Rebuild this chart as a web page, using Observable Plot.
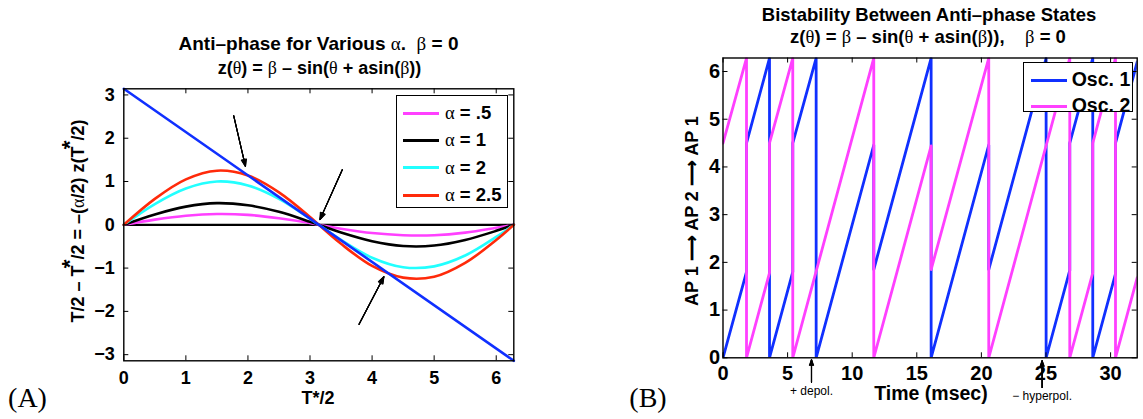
<!DOCTYPE html>
<html><head><meta charset="utf-8">
<script src="https://cdn.jsdelivr.net/npm/d3@7"></script>
<script src="https://cdn.jsdelivr.net/npm/@observablehq/plot@0.6"></script>
<style>
body{margin:0;background:#fff;}
#wrap{position:relative;width:1143px;height:419px;overflow:hidden;font-family:"Liberation Sans",Arial,sans-serif;color:#000;}
#wrap svg{position:absolute;top:0;}
.t{position:absolute;white-space:pre;transform:translate(-50%,-50%);font-weight:bold;line-height:1;}
.g{font-family:"Liberation Serif","DejaVu Serif",serif;font-weight:normal;}
.rot{transform:translate(-50%,-50%) rotate(-90deg);}
.legend{position:absolute;border:1.3px solid #000;background:#fff;box-sizing:border-box;}
.sw{position:absolute;height:3px;}
.lt{position:absolute;white-space:pre;font-weight:bold;line-height:1;transform:translateY(-50%);}
.panel{position:absolute;font-family:"Liberation Serif","DejaVu Serif",serif;font-size:28px;transform:translate(-50%,-50%);line-height:1;}
.st{position:relative;top:-0.3em;font-size:1.25em;margin-left:-0.12em;}
</style></head>
<body><div id="wrap"></div>
<script>
// ---------- Panel A data ----------
const thetaA   = [0, 0.5, 1, 1.5, 2, 2.5, 3, 3.1416, 3.5, 4, 4.5, 5, 5.5, 6, 6.2832];
const alpha05  = [0, 0.12, 0.21, 0.25, 0.23, 0.15, 0.04, 0, -0.09, -0.19, -0.24, -0.24, -0.18, -0.07, 0];
const alpha1   = [0, 0.24, 0.42, 0.50, 0.45, 0.30, 0.07, 0, -0.18, -0.38, -0.49, -0.48, -0.35, -0.14, 0];
const alpha2   = [0, 0.48, 0.84, 1.00, 0.91, 0.60, 0.14, 0, -0.35, -0.76, -0.98, -0.96, -0.71, -0.28, 0];
const alpha25  = [0, 0.60, 1.05, 1.25, 1.14, 0.75, 0.18, 0, -0.44, -0.95, -1.22, -1.20, -0.88, -0.35, 0];
const alphaNames  = ["α = .5", "α = 1", "α = 2", "α = 2.5"];
const alphaColors = ["#ff40ff", "#000000", "#22ffff", "#ff2a0a"];
const diagX = [0, 6.2832];
const diagY = [3.1416, -3.1416];
const xTicksA = [0, 1, 2, 3, 4, 5, 6];
const yTicksA = [-3, -2, -1, 0, 1, 2, 3];
const arrowAx1 = [1.77, 3.52, 3.79];
const arrowAy1 = [2.52, 1.27, -2.30];
const arrowAx2 = [1.96, 3.16, 4.19];
const arrowAy2 = [1.35, 0.12, -1.20];

// ---------- Panel B data ----------
const osc1T     = [0, 1.82, 1.82, 3.60, 3.60, 5.40, 5.40, 7.21, 7.21, 11.67, 11.67, 16.11, 16.11, 20.57, 20.57, 25.01, 25.01, 26.84, 26.84, 28.62, 28.62, 30.38, 30.38, 32.06];
const osc1Phase = [0, 1.80, 4.50, 6.28, 0,    1.80, 4.50, 6.28, 0,    4.46,  1.85,  6.28,  0,     4.46,  1.85,  6.28,  0,     1.83,  4.50,  6.28,  0,     1.76,  4.50,  6.20];
const osc2T     = [0, 1.82, 1.82, 3.60, 3.60, 5.40, 5.40, 11.67, 11.67, 16.11, 16.11, 20.57, 20.57, 26.84, 26.84, 28.62, 28.62, 30.38, 30.38, 32.06];
const osc2Phase = [4.50, 6.28, 0, 1.78, 4.50, 6.28, 0,  6.28,  0,     4.44,  1.85,  6.28,  0,     6.28,  0,     1.78,  4.50,  6.28,  0,     1.68];
const oscNames  = ["Osc. 1", "Osc. 2"];
const oscColors = ["#1030ff", "#ff40ff"];
const xTicksB = [0, 5, 10, 15, 20, 25, 30];
const yTicksB = [0, 1, 2, 3, 4, 5, 6];
const pulseT     = [6.85, 24.7];
const pulseLabel = ["+ depol.", "− hyperpol."];
const pulseTail  = [-0.51, -0.62];
const pulseHead  = [-0.04, -0.06];
const pulseTextY = [-0.70, -0.81];

const wrap = document.getElementById("wrap");
const font = "Liberation Sans, Arial, sans-serif";

function frameTicks(xt, yt, W, H, len) {
  return [
    Plot.tickX(xt, {x: d => d, insetTop: H - len, stroke: "#000", strokeWidth: 1}),
    Plot.tickX(xt, {x: d => d, insetBottom: H - len, stroke: "#000", strokeWidth: 1}),
    Plot.tickY(yt, {y: d => d, insetRight: W - len, stroke: "#000", strokeWidth: 1}),
    Plot.tickY(yt, {y: d => d, insetLeft: W - len, stroke: "#000", strokeWidth: 1})
  ];
}
function filledArrow(data, opts) {
  return [12, 24, 34, 42].map(a => Plot.arrow(data, {...opts, headAngle: a}));
}

// ---------- Panel A ----------
{
  const mL = 123.3, mR = 46.7, mT = 88.3, mB = 58.7, w = 560, h = 419;
  const series = [alpha05, alpha1, alpha2, alpha25];
  const rows = [];
  series.forEach((s, k) => s.forEach((v, i) => rows.push({x: thetaA[i], y: v, k})));
  const diag = diagX.map((x, i) => ({x, y: diagY[i]}));
  const arrows = arrowAx1.map((x1, i) => ({x1, y1: arrowAy1[i], x2: arrowAx2[i], y2: arrowAy2[i]}));
  const svg = Plot.plot({
    width: w, height: h, marginLeft: mL, marginRight: mR, marginTop: mT, marginBottom: mB,
    x: {domain: [0, 2 * Math.PI]},
    y: {domain: [-Math.PI, Math.PI]},
    style: {fontFamily: font, fontWeight: "bold", fontSize: "18px", background: "transparent"},
    marks: [
      Plot.ruleY([0], {stroke: "#000", strokeWidth: 2.2}),
      ...series.map((s, k) => Plot.line(rows.filter(r => r.k === k), {x: "x", y: "y", stroke: alphaColors[k], strokeWidth: 2.6, curve: "catmull-rom"})),
      Plot.line(diag, {x: "x", y: "y", stroke: "#1030ff", strokeWidth: 2.6}),
      ...filledArrow(arrows, {x1: "x1", y1: "y1", x2: "x2", y2: "y2", stroke: "#000", strokeWidth: 1.1, headLength: 10}),
      Plot.frame({stroke: "#000", strokeWidth: 1.4}),
      ...frameTicks(xTicksA, yTicksA, w - mL - mR, h - mT - mB, 5),
      Plot.axisX(xTicksA, {tickSize: 0, tickPadding: 10.5, fontSize: 18, fontWeight: "bold", label: null}),
      Plot.axisY(yTicksA, {tickSize: 0, tickPadding: 9, fontSize: 18, fontWeight: "bold", label: null})
    ]
  });
  svg.style.left = "0px";
  wrap.appendChild(svg);
}

// ---------- Panel B ----------
{
  const mL = 122.5, mR = 6.3, mT = 57.5, mB = 61.7, w = 543, h = 419;
  const rows1 = osc1T.map((t, i) => ({t, p: osc1Phase[i]}));
  const rows2 = osc2T.map((t, i) => ({t, p: osc2Phase[i]}));
  const pulses = pulseT.map((t, i) => ({t, lab: pulseLabel[i], y1: pulseTail[i], y2: pulseHead[i], ty: pulseTextY[i]}));
  const svg = Plot.plot({
    width: w, height: h, marginLeft: mL, marginRight: mR, marginTop: mT, marginBottom: mB,
    x: {domain: [0, 32.06]},
    y: {domain: [0, 2 * Math.PI]},
    style: {fontFamily: font, fontWeight: "bold", fontSize: "19px", background: "transparent", overflow: "visible"},
    marks: [
      Plot.line(rows1, {x: "t", y: "p", stroke: oscColors[0], strokeWidth: 2.8, clip: true}),
      Plot.line(rows2, {x: "t", y: "p", stroke: oscColors[1], strokeWidth: 2.8, clip: true}),
      Plot.frame({stroke: "#000", strokeWidth: 1.4}),
      ...frameTicks(xTicksB, yTicksB, w - mL - mR, h - mT - mB, 5),
      Plot.axisX(xTicksB, {tickSize: 0, tickPadding: 8, fontSize: 20, fontWeight: "bold", label: null}),
      Plot.axisY(yTicksB, {tickSize: 0, tickPadding: 3, fontSize: 20, fontWeight: "bold", label: null}),
      ...filledArrow(pulses, {x1: "t", y1: "y1", x2: "t", y2: "y2", stroke: "#000", strokeWidth: 1.1, headLength: 8}),
      Plot.text(pulses, {x: "t", y: "ty", text: "lab", fontSize: 12, fontWeight: "normal", fill: "#000"})
    ]
  });
  svg.style.left = "600px";
  wrap.appendChild(svg);
}

// ---------- Text overlays ----------
function addText(html, x, y, size, cls = "t") {
  const d = document.createElement("div");
  d.className = cls;
  d.style.left = x + "px"; d.style.top = y + "px"; d.style.fontSize = size + "px";
  d.innerHTML = html;
  wrap.appendChild(d);
  return d;
}
const G = s => `<span class="g">${s}</span>`;
addText(`Anti–phase for Various ${G("α")}.  ${G("β")} = 0`, 318.5, 43, 19);
addText(`z(${G("θ")}) = ${G("β")} – sin(${G("θ")} + asin(${G("β")}))`, 319.5, 68, 18);
addText(`T*/2`, 318, 398, 18);
addText(`T/2 – T<span class="st">*</span>/2 = –(${G("α")}/2) z(T<span class="st">*</span>/2)`, 77, 221, 18, "t rot");
addText(`(A)`, 27.5, 398, 28, "panel");

addText(`Bistability Between Anti–phase States`, 929, 15, 18.5);
addText(`z(${G("θ")}) = ${G("β")} – sin(${G("θ")} + asin(${G("β")})),    ${G("β")} = 0`, 928, 37, 18.5);
addText(`Time (msec)`, 931, 393.5, 19.5);
addText(`AP 1 ⟶ AP 2 ⟶ AP 1`, 692, 211, 18, "t rot");
addText(`(B)`, 648, 398, 28, "panel");

// ---------- Legends ----------
function legend(box, names, colors, ys, lineX1, lineX2, textX, size) {
  const b = document.createElement("div");
  b.className = "legend";
  Object.assign(b.style, {left: box[0] + "px", top: box[1] + "px", width: box[2] + "px", height: box[3] + "px"});
  wrap.appendChild(b);
  names.forEach((n, i) => {
    const s = document.createElement("div");
    s.className = "sw";
    Object.assign(s.style, {left: lineX1 + "px", top: (ys[i] - 1.5) + "px", width: (lineX2 - lineX1) + "px", background: colors[i]});
    wrap.appendChild(s);
    const t = document.createElement("div");
    t.className = "lt";
    Object.assign(t.style, {left: textX + "px", top: ys[i] + "px", fontSize: size + "px"});
    t.innerHTML = n.replace("α", G("α"));
    wrap.appendChild(t);
  });
}
legend([395.7, 95, 112, 113.3], alphaNames, alphaColors, [113.3, 140.3, 167.5, 195], 402.7, 439.3, 445, 18.5);
legend([1023, 61.7, 110, 50], oscNames, oscColors, [80, 106], 1031, 1066.7, 1071.7, 19.5);
</script></body></html>
